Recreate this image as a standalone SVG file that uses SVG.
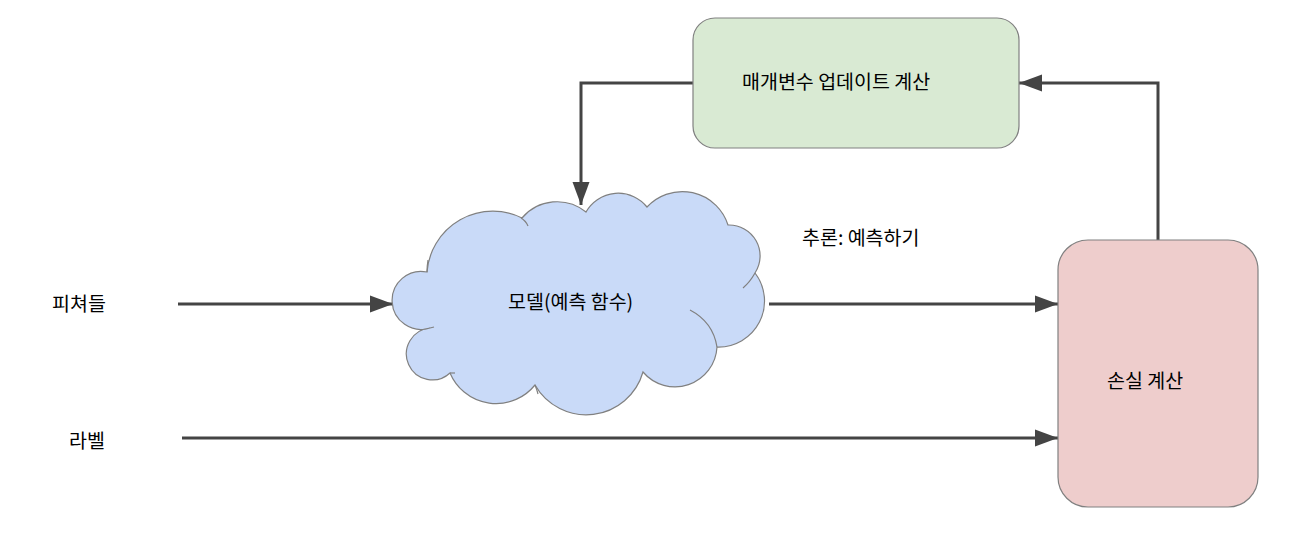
<svg xmlns="http://www.w3.org/2000/svg" width="1290" height="552" viewBox="0 0 1290 552">
<style>
.lbl{font-family:"Noto Sans CJK KR","Liberation Sans",sans-serif;font-size:19.5px;fill:#000}
.node{stroke:#808080;stroke-width:1.2}
.edge{fill:none;stroke:#444;stroke-width:3}
.inner{fill:none;stroke:#808080;stroke-width:1.2}
</style>
<defs>
<marker id="ah" markerUnits="userSpaceOnUse" markerWidth="24" markerHeight="18" refX="23" refY="9" orient="auto">
<path d="M0,0.5 L23,9 L0,17.5 Z" fill="#444"/>
</marker>
</defs>
<rect width="1290" height="552" fill="#fff"/>
<g id="connectors">
<path class="edge" d="M178,304 H393" marker-end="url(#ah)"/>
<path class="edge" d="M182,438 H1058" marker-end="url(#ah)"/>
<path class="edge" d="M769,304 H1058" marker-end="url(#ah)"/>
<path class="edge" d="M1158,240 V83 H1019" marker-end="url(#ah)"/>
<path class="edge" d="M693,83 H581 V205" marker-end="url(#ah)"/>
</g>
<g id="update">
<rect class="node" x="693" y="18" width="326" height="130" rx="22" fill="#d9ead3"/>
<text class="lbl" x="742" y="89">매개변수 업데이트 계산</text>
</g>
<g id="model">
<path class="node" fill="#c9daf8" d="M430,328 A29 29 0 1 1 427,272 A66 66 0 0 1 522,218 A46 46 0 0 1 586,212 A37 37 0 0 1 647,207 A48 48 0 0 1 728,225 A31 31 0 0 1 755,273 A46 46 0 0 1 717,347 A42 42 0 0 1 643,372 A59 59 0 0 1 535,385 A50 50 0 0 1 450,373 A26 26 0 1 1 430,328 Z"/>
<path class="inner" d="M521,218 Q526,221 528,226"/>
<path class="inner" d="M755,273 Q750,282 743,288"/>
<path class="inner" d="M717,347 Q713,322 690,310"/>
<path class="inner" d="M535,385 Q537,390 538,394"/>
<path class="inner" d="M427,272 Q427,266 428,260"/>
<path class="inner" d="M450,373 L455,373"/>
<path class="inner" d="M430,328 L434,327"/>
<text class="lbl" x="508" y="309">모델(예측 함수)</text>
</g>
<g id="loss">
<rect class="node" x="1058" y="240" width="200" height="267" rx="30" fill="#eecdcc"/>
<text class="lbl" x="1107" y="388">손실 계산</text>
</g>
<g id="features">
<text class="lbl" x="52" y="311">피쳐들</text>
</g>
<g id="label">
<text class="lbl" x="69" y="448">라벨</text>
</g>
<g id="inference">
<text class="lbl" x="802" y="245">추론: 예측하기</text>
</g>
</svg>
